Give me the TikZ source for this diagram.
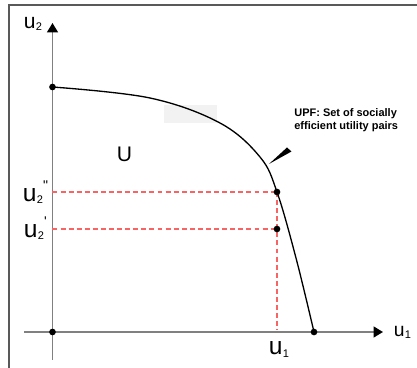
\documentclass[tikz,border=0pt]{standalone}
\usepackage{fontspec}
\setmainfont{Liberation Sans}[Ligatures=TeXOff]
\usetikzlibrary{arrows.meta}

\definecolor{guidered}{RGB}{248,100,100}
\newcommand{\subfont}{\fontsize{6.3pt}{7pt}\selectfont}
\newcommand{\supfont}{\fontsize{8pt}{9pt}\selectfont}
\newcommand{\ulbl}[2]{u\kern0.2pt\raisebox{-0.7pt}{\subfont #1}\raisebox{6.6pt}{\supfont #2}}

\begin{document}
\begin{tikzpicture}[
  x=0.02cm, y=-0.02cm,
  axis/.style={draw=black!50, line width=1.1pt},
  tip/.style={-{Triangle[length=5.4pt, width=6.2pt, color=black]}},
  frontier/.style={draw=black, line width=0.75pt},
  guide/.style={draw=guidered, line width=0.6pt, dash pattern=on 2.8pt off 1.8pt},
  dot/.style={circle, fill=black, inner sep=0pt, minimum size=3.8pt},
  lbl/.style={inner sep=0pt, anchor=base west, font=\fontsize{14pt}{16pt}\selectfont},
  note/.style={inner sep=0pt, anchor=base west, align=left,
               font=\fontsize{6.25pt}{7.8pt}\selectfont\bfseries}
]
\useasboundingbox (0,0) rectangle (417,368);
\draw[draw=black!65, line width=1.1pt] (9,368) -- (9,5) -- (417,5);
\fill[black!5] (164,105) rectangle (217,123);

\coordinate (O)  at (52.5,332);
\coordinate (yb) at (52.5,360);
\coordinate (yt) at (52.5,23);
\coordinate (xl) at (24,332);
\coordinate (xr) at (383,332);
\coordinate (A)  at (52.5,87);
\coordinate (B)  at (277,192);
\coordinate (C)  at (277,229);
\coordinate (D)  at (314,332);
\coordinate (hB) at (52.5,192);
\coordinate (hC) at (52.5,229);
\coordinate (vB) at (277,330);

\draw[axis, tip] (yb) -- (yt);
\draw[axis, tip] (xl) -- (xr);

\draw[guide] (hB) -- (B);
\draw[guide] (hC) -- (C);
\draw[guide] (B) -- (vB);

\draw[frontier] plot[smooth, tension=0.6] coordinates
  {(A) (150,98) (220,123) (260,157) (277,192) (296,258) (D)};

\node[dot] (dA) at (A) {};
\node[dot] (dB) at (B) {};
\node[dot] (dC) at (C) {};
\node[dot] (dD) at (D) {};
\node[dot] (dO) at (O) {};

\node[lbl, font=\fontsize{12pt}{14pt}\selectfont] (u2top) at (23.5,29) {u\kern0.2pt\raisebox{-0.7pt}{\subfont 2}};
\node[lbl, font=\fontsize{11pt}{13pt}\selectfont] (u1right) at (393.5,337) {u\kern0.2pt\raisebox{-1pt}{\subfont 1}};
\node[lbl] (u2pp) at (22.5,202) {\ulbl{2}{"}};
\node[lbl] (u2p)  at (23.5,238) {\ulbl{2}{'}};
\node[lbl] (u1)   at (268.5,355) {u\kern0.2pt\raisebox{-1.5pt}{\subfont 1}};
\node[lbl, font=\fontsize{12pt}{14pt}\selectfont] (setU) at (116.5,162) {U};

\node[note] (upf) at (294,130) {UPF: Set of socially\\efficient utility pairs};
\fill (269,164) -- (287,147.5) -- (291.5,151.5) -- cycle;
\end{tikzpicture}
\end{document}
